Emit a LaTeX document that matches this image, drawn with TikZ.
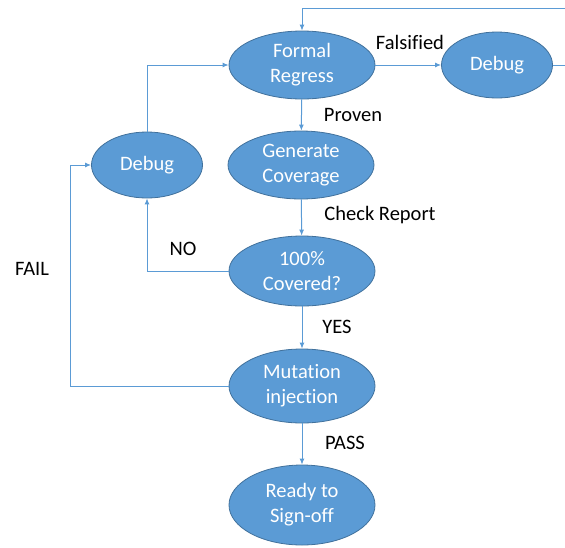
\documentclass[tikz,border=0pt]{standalone}
\usepackage{fontspec}
\setmainfont[Ligatures=NoCommon]{Carlito}
\usetikzlibrary{arrows.meta,shapes.geometric}
\definecolor{boxfill}{HTML}{5B9BD5}
\definecolor{boxedge}{HTML}{41719C}
\definecolor{wire}{HTML}{5B9BD5}
\tikzset{
  stage/.style={ellipse, draw=boxedge, line width=0.8pt, fill=boxfill,
    text=white, align=center, inner sep=0pt,
    font=\fontsize{20.5}{25}\selectfont},
  wide/.style={minimum width=146pt, minimum height=68pt},
  narrow/.style={minimum width=111pt, minimum height=66pt},
  flow/.style={draw=wire, line width=1pt, -{Latex[length=6pt,width=5pt]}},
  tag/.style={font=\fontsize{20.5}{24}\selectfont, text=black}
}
\begin{document}
\begin{tikzpicture}[x=1pt,y=-1pt]
\useasboundingbox (0,0) rectangle (565,547);
\node[stage,wide] (formal) at (302,65) {Formal\\Regress};
\node[stage,narrow] (dbgR) at (497,65) {Debug};
\node[stage,narrow] (dbgL) at (147,165) {Debug};
\node[stage,wide] (gen) at (301,165) {Generate\\Coverage};
\node[stage,wide,minimum height=70pt] (cov) at (302,271) {100\%\\Covered?};
\node[stage,wide,minimum height=74pt] (mut) at (302,386) {Mutation\\injection};
\node[stage,wide,minimum height=80pt] (ready) at (302,505) {Ready to\\Sign-off};

\coordinate (loopR) at (580,8);
\draw[flow] (formal) -- (dbgR);
\draw[flow] (dbgR.east) -- (loopR |- dbgR.east) -- (loopR) -| (formal.north);
\draw[flow] (formal) -- (gen);
\draw[flow] (gen) -- (cov);
\draw[flow] (cov.west) -| (dbgL.south);
\draw[flow] (dbgL.north) |- (formal.west);
\draw[flow] (cov) -- (mut);
\draw[flow] (mut.west) -- (70,386) |- (dbgL.west);
\draw[flow] (mut) -- (ready);

\node[tag] (tFals) at (410,42) {Falsified};
\node[tag] (tProv) at (353,115) {Proven};
\node[tag] (tChk) at (380,215) {Check Report};
\node[tag] (tNo) at (183,249) {NO};
\node[tag] (tYes) at (337,327) {YES};
\node[tag] (tFail) at (32,269) {FAIL};
\node[tag] (tPass) at (345,443) {PASS};
\end{tikzpicture}
\end{document}
